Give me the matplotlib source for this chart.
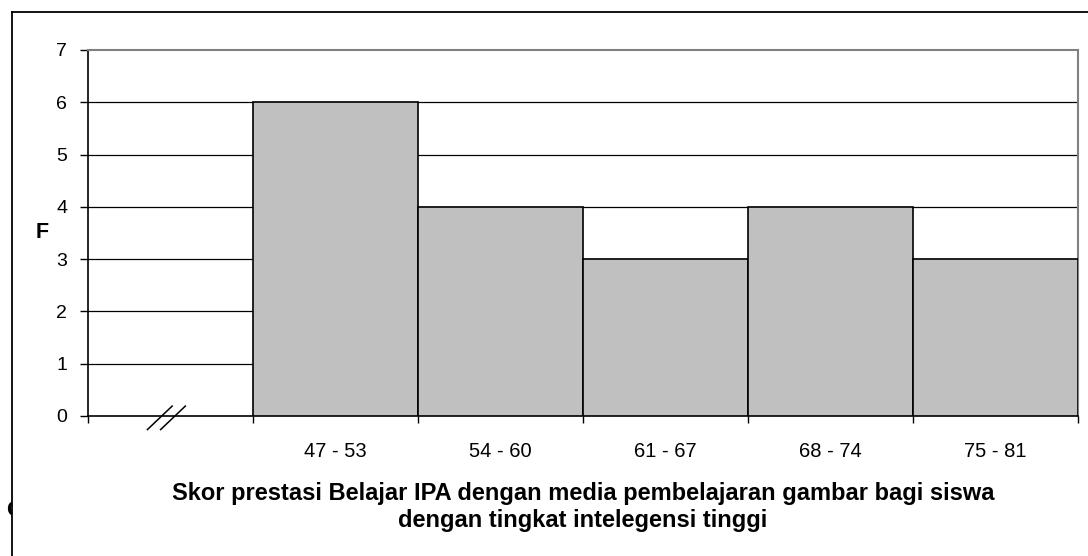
import matplotlib
matplotlib.use("Agg")
import matplotlib.pyplot as plt
from matplotlib.lines import Line2D
from matplotlib.transforms import Bbox, TransformedBbox

plt.rcParams['font.family'] = ['Liberation Sans', 'DejaVu Sans']

# Score classes and their frequencies
categories = ["47 - 53", "54 - 60", "61 - 67", "68 - 74", "75 - 81"]
frequencies = [6, 4, 3, 4, 3]
y_ticks = [0, 1, 2, 3, 4, 5, 6, 7]
x_title = "Skor prestasi Belajar IPA dengan media pembelajaran gambar bagi siswa\ndengan tingkat intelegensi tinggi"
y_title = "F"

W, H = 1088, 556
fig = plt.figure(figsize=(W / 100, H / 100), dpi=100)
ax = fig.add_axes([88 / W, 1 - 416 / H, (1078 - 88) / W, (416 - 50) / H])

# First category slot is left empty (axis break), bars follow
n_slots = len(categories) + 1
centers = [i + 1.5 for i in range(len(categories))]
ax.bar(centers, frequencies, width=1.0, color="#C0C0C0", edgecolor="black",
       linewidth=1.2, zorder=3)

ax.set_xlim(0, n_slots)
ax.set_ylim(0, 7)

# Gridlines
for v in y_ticks[1:-1]:
    ax.axhline(v, color="black", linewidth=0.9, zorder=1)

ax.set_yticks(y_ticks)
ax.set_yticklabels([str(v) for v in y_ticks], fontsize=14)
ax.set_xticks(centers)
ax.set_xticklabels(categories, fontsize=14.5)
ax.set_xticks(range(n_slots + 1), minor=True)
ax.tick_params(axis="x", which="major", length=0, pad=19)
ax.tick_params(axis="x", which="minor", length=5, width=1, direction="out", color="black")
ax.tick_params(axis="y", length=6, width=1, direction="out", pad=9)

for side in ("top", "right"):
    ax.spines[side].set_color("#808080")
    ax.spines[side].set_linewidth(1.5)
for side in ("left", "bottom"):
    ax.spines[side].set_color("black")
    ax.spines[side].set_linewidth(1.2)

ax.set_xlabel(x_title, fontsize=17, fontweight="bold", labelpad=15, linespacing=1.2)
ax.set_ylabel(y_title, fontsize=15.5, fontweight="bold", rotation=0, va="center")
ax.yaxis.set_label_coords(-46 / 990, 3.5 / 7)

# Axis break marks on the empty first slot
for dx in (0.0, 0.08):
    ax.plot([0.36 + dx, 0.51 + dx], [-0.26, 0.19], color="black", linewidth=1.1,
            clip_on=False, zorder=5)

# Outer frame of the chart area
fig.add_artist(Line2D([12 / W, 1], [1 - 12 / H, 1 - 12 / H], color="black", linewidth=1.3,
                      transform=fig.transFigure))
fig.add_artist(Line2D([12 / W, 12 / W], [0, 1 - 12 / H], color="black", linewidth=1.3,
                      transform=fig.transFigure))

# Edge of surrounding page text peeking out left of the frame
peek = fig.text(6 / W, 1 - 511 / H, "C", fontsize=16, fontweight="bold",
                ha="left", va="center")
peek.set_clip_box(TransformedBbox(Bbox([[0, 0], [12 / W, 1]]), fig.transFigure))

fig.savefig("out.png", dpi=100)
